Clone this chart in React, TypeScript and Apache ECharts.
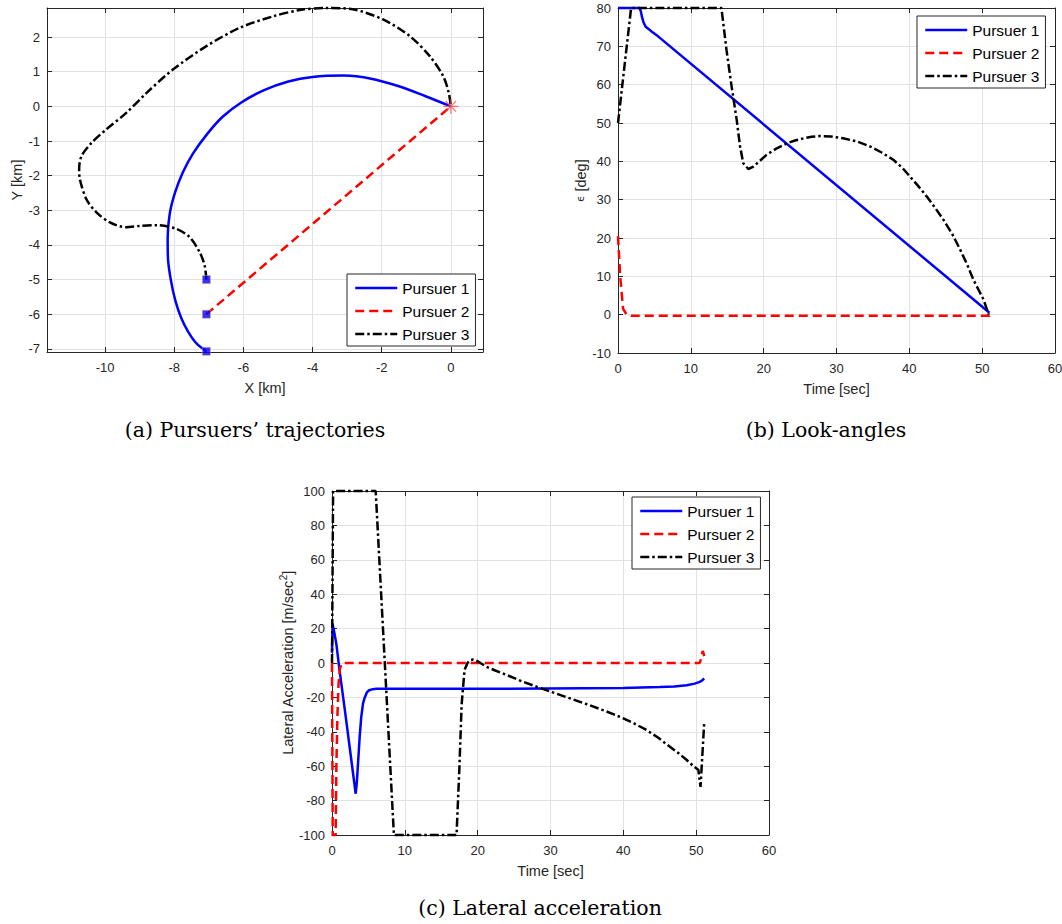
import { useEffect, useRef } from "react";
import * as echarts from "echarts";

// ---- series styling -------------------------------------------------------
const PURSUERS = ["Pursuer 1", "Pursuer 2", "Pursuer 3"];
const COLORS = ["#0000ff", "#ff0000", "#000000"];
const DASHES: any[] = ["solid", [9, 5], [9, 3, 2.5, 3]];

// ---- (a) trajectories in the X-Y plane [km] -------------------------------
const trajP1 = [
  [-7.07, -7.07], [-7.35, -6.85], [-7.6, -6.5], [-7.8, -6.1], [-7.97, -5.6],
  [-8.1, -5.0], [-8.18, -4.4], [-8.19, -3.8], [-8.13, -3.1], [-7.98, -2.5],
  [-7.75, -1.9], [-7.45, -1.35], [-7.05, -0.8], [-6.6, -0.3], [-6.05, 0.12],
  [-5.4, 0.47], [-4.7, 0.72], [-4.0, 0.85], [-3.1, 0.89], [-2.3, 0.8],
  [-1.5, 0.58], [-0.75, 0.3], [0, 0],
];
const trajP2 = [[-7.07, -6], [0, 0]];
const trajP3 = [
  [-7.07, -5], [-7.12, -4.6], [-7.26, -4.22], [-7.55, -3.78], [-7.93, -3.54],
  [-8.5, -3.43], [-9.0, -3.45], [-9.4, -3.49], [-9.86, -3.35], [-10.25, -3.06],
  [-10.54, -2.68], [-10.73, -2.1], [-10.75, -1.8], [-10.68, -1.43], [-10.39, -1.05],
  [-9.96, -0.66], [-9.38, -0.18], [-8.8, 0.39], [-8.03, 1.07], [-7.07, 1.74],
  [-6.1, 2.27], [-5.14, 2.6], [-4.37, 2.78], [-3.6, 2.84], [-2.83, 2.8],
  [-1.96, 2.51], [-1.19, 2.03], [-0.61, 1.45], [-0.22, 0.87], [-0.06, 0.39], [0, 0],
];
const startPoints = [[-7.07, -7.07], [-7.07, -6], [-7.07, -5]];
const targetPoint = [[0, 0]];
const trajXTicks = [-10, -8, -6, -4, -2, 0];
const trajYTicks = [-7, -6, -5, -4, -3, -2, -1, 0, 1, 2];

// ---- (b) look-angles [deg] vs time [sec] ----------------------------------
const lookP1 = [
  [0, 80], [3.0, 80], [3.15, 79], [3.3, 77.6], [3.5, 76.3], [3.8, 75.1], [4.2, 74.5],
  [4.6, 73.9], [5.5, 72.6], [51, 0.5],
];
const lookP2 = [
  [0, 20.5], [0.3, 10], [0.7, 1.5], [1.2, 0], [1.8, -0.3], [51, -0.3], [51.1, 0],
];
const lookP3 = [
  [0, 50], [1.8, 80], [14.2, 80], [14.9, 69], [15.6, 59.5], [16.3, 50.8], [16.75, 44],
  [17.2, 39.5], [17.9, 38], [18.6, 38.6], [19.4, 40], [20.4, 41.7], [21.8, 43.4],
  [23.2, 44.7], [24.4, 45.5], [25.5, 46], [26.6, 46.4], [27.7, 46.6], [29.2, 46.5],
  [30.9, 46], [32.8, 45.2], [34.6, 43.9], [36.2, 42.3], [37.8, 40.4], [39, 38.4],
  [40.1, 36], [41.2, 33.6], [42.4, 30.8], [43.5, 28], [44.7, 24.7], [45.9, 21],
  [47, 16.9], [48, 12.8], [48.8, 9.1], [49.5, 6.5], [50.2, 3.9], [50.9, 0],
];

// ---- (c) lateral acceleration [m/sec^2] vs time [sec] ---------------------
const accP1 = [
  [0, 6], [0.08, 23], [0.3, 18], [0.6, 11], [1.0, -3], [2.0, -35], [2.7, -58],
  [3.1, -71], [3.25, -76], [3.4, -70], [3.55, -60], [3.8, -43], [4.0, -32],
  [4.26, -23.5], [4.5, -20], [4.8, -17], [5.1, -15.8], [5.6, -15.2], [6.1, -15],
  [20, -15], [40, -14.6], [45, -14], [47, -13.6], [48.7, -12.9], [49.8, -12],
  [50.5, -11], [50.8, -10.2], [51.1, -9],
];
const accP2 = [
  [0, 0], [0.1, -100], [0.5, -100], [0.6, -60], [0.75, -30], [0.9, -12], [1.1, -3],
  [1.4, 0], [50.5, 0], [50.7, 3], [50.9, 7], [51.05, 5], [51.1, 4],
];
const accP3 = [
  [0, 0], [0.15, 100], [6.0, 100], [8.5, -100], [17.1, -100], [17.5, -60], [17.8, -24],
  [18.2, -4], [18.6, 0], [18.9, 1.6], [19.4, 2], [20, 1], [21.2, -2.2], [22.5, -4.5],
  [24, -7], [26, -10.5], [28.1, -13.8], [30.4, -17.2], [32.7, -20.6], [35, -24],
  [37.2, -27.4], [38.6, -29.7], [40, -32.2], [41.6, -35.4], [43.2, -39], [44.8, -43.5],
  [46.4, -48.7], [47.6, -52.5], [48.7, -56.4], [49.5, -59.5], [50.3, -62.2],
  [50.6, -72], [51.1, -35],
];

// ---- shared look -----------------------------------------------------------
const AX = "#262626";
const GRID_LINE = "#e2e2e2";
const SANS = "'Liberation Sans', Arial, Helvetica, sans-serif";
const SERIF = "'DejaVu Serif', serif";
const LINE_W = 2.5;

function axisPair(o: any) {
  const { dim, gridIndex, min, max, interval, ticks, name, nameGap, rich } = o;
  const isX = dim === "x";
  const main: any = {
    type: "value",
    gridIndex,
    min,
    max,
    interval,
    position: isX ? "bottom" : "left",
    name,
    nameLocation: "middle",
    nameGap,
    nameTextStyle: { fontFamily: SANS, fontSize: 14.5, color: AX, rich },
    axisLine: { show: true, onZero: false, lineStyle: { color: AX, width: 1 } },
    axisTick: { show: true, inside: true, length: 5, lineStyle: { color: AX, width: 1 }, customValues: ticks },
    axisLabel: {
      show: true,
      margin: isX ? 9 : 7,
      fontFamily: SANS,
      fontSize: 13,
      color: AX,
      customValues: ticks,
    },
    splitLine: { show: true, lineStyle: { color: GRID_LINE, width: 1 } },
  };
  const mirror: any = {
    type: "value",
    gridIndex,
    min,
    max,
    interval,
    position: isX ? "top" : "right",
    axisLine: { show: true, onZero: false, lineStyle: { color: AX, width: 1 } },
    axisTick: { show: true, inside: true, length: 5, lineStyle: { color: AX, width: 1 }, customValues: ticks },
    axisLabel: { show: false, customValues: ticks },
    splitLine: { show: false },
  };
  return [main, mirror];
}

function pursuerLine(k: number, data: number[][], axisIndex: number, smooth: number | boolean = false) {
  return {
    type: "line",
    name: PURSUERS[k],
    data,
    xAxisIndex: axisIndex,
    yAxisIndex: axisIndex,
    symbol: "none",
    smooth,
    clip: false,
    lineStyle: { color: COLORS[k], width: LINE_W, type: DASHES[k] },
    itemStyle: { color: COLORS[k] },
    emphasis: { disabled: true },
    z: 3,
  };
}

function legendAt(left: number, top: number) {
  return {
    orient: "vertical",
    left,
    top,
    data: PURSUERS,
    backgroundColor: "#ffffff",
    borderColor: AX,
    borderWidth: 1,
    borderRadius: 0,
    padding: [6, 6, 4, 7],
    itemWidth: 42,
    itemHeight: 14,
    itemGap: 7,
    selectedMode: false,
    lineStyle: { width: LINE_W },
    // only the line sample is shown, no marker on it
    itemStyle: { opacity: 0, borderWidth: 0 },
    textStyle: { fontFamily: SANS, fontSize: 15.5, color: "#000" },
  };
}

function caption(text: string, x: number, y: number) {
  return {
    type: "text",
    x,
    y,
    silent: true,
    style: {
      text,
      font: `20.5px ${SERIF}`,
      fill: "#000",
      align: "center",
      verticalAlign: "middle",
      textAlign: "center",
      textVerticalAlign: "middle",
    },
  };
}

export default function App() {
  const ref = useRef<HTMLDivElement>(null);

  useEffect(() => {
    if (!ref.current) return;
    const chart = echarts.init(ref.current, null, { renderer: "svg" });

    const xa = axisPair({ dim: "x", gridIndex: 0, min: -11.68, max: 0.93, ticks: trajXTicks, name: "X [km]", nameGap: 28 });
    const ya = axisPair({ dim: "y", gridIndex: 0, min: -7.09, max: 2.84, ticks: trajYTicks, name: "Y [km]", nameGap: 21 });
    const xb = axisPair({ dim: "x", gridIndex: 1, min: 0, max: 60, interval: 10, name: "Time [sec]", nameGap: 28 });
    const yb = axisPair({
      dim: "y", gridIndex: 1, min: -10, max: 80, interval: 10,
      name: "{e|ϵ} [deg]", nameGap: 28,
      rich: { e: { fontFamily: "'DejaVu Sans', sans-serif", fontSize: 10, color: AX } },
    });
    const xc = axisPair({ dim: "x", gridIndex: 2, min: 0, max: 60, interval: 10, name: "Time [sec]", nameGap: 28 });
    const yc = axisPair({
      dim: "y", gridIndex: 2, min: -100, max: 100, interval: 20,
      name: "Lateral Acceleration [m/sec{s|2}]", nameGap: 34,
      rich: { s: { fontFamily: SANS, fontSize: 10, color: AX, verticalAlign: "top", padding: [0, 0, 8, 0] } },
    });

    const option: any = {
      animation: false,
      backgroundColor: "#ffffff",
      grid: [
        { left: 47, top: 8, width: 436, height: 344, containLabel: false, outerBoundsMode: "none" },
        { left: 618, top: 8, width: 437, height: 345, containLabel: false, outerBoundsMode: "none" },
        { left: 332, top: 491, width: 437, height: 344, containLabel: false, outerBoundsMode: "none" },
      ],
      xAxis: [...xa, ...xb, ...xc],
      yAxis: [...ya, ...yb, ...yc],
      legend: [legendAt(347, 274), legendAt(917, 16), legendAt(632, 497)],
      series: [
        // (a)
        pursuerLine(0, trajP1, 0, 0.3),
        pursuerLine(1, trajP2, 0),
        pursuerLine(2, trajP3, 0, 0.3),
        {
          type: "scatter",
          data: startPoints,
          xAxisIndex: 0,
          yAxisIndex: 0,
          symbol: "rect",
          symbolSize: 8,
          clip: false,
          itemStyle: { color: "#0000ff", borderColor: "#e8a33c", borderWidth: 0.6 },
          emphasis: { disabled: true },
          z: 5,
        },
        {
          type: "scatter",
          data: targetPoint,
          xAxisIndex: 0,
          yAxisIndex: 0,
          symbol: "path://M10,0 L10,20 M0,10 L20,10 M3,3 L17,17 M3,17 L17,3",
          symbolSize: 15,
          clip: false,
          itemStyle: { color: "none", borderColor: "#ff4a4a", borderWidth: 1.2 },
          emphasis: { disabled: true },
          z: 6,
        },
        // (b)
        pursuerLine(0, lookP1, 2),
        pursuerLine(1, lookP2, 2),
        pursuerLine(2, lookP3, 2),
        // (c)
        pursuerLine(0, accP1, 4),
        pursuerLine(1, accP2, 4),
        pursuerLine(2, accP3, 4),
      ],
      graphic: [
        caption("(a) Pursuers’ trajectories", 255, 430),
        caption("(b) Look-angles", 826, 430),
        caption("(c) Lateral acceleration", 540, 908),
      ],
    };

    chart.setOption(option);
    return () => chart.dispose();
  }, []);

  return (
    <div
      ref={ref}
      style={{ position: "fixed", left: 0, top: 0, width: 1062, height: 924, background: "#fff" }}
    />
  );
}
